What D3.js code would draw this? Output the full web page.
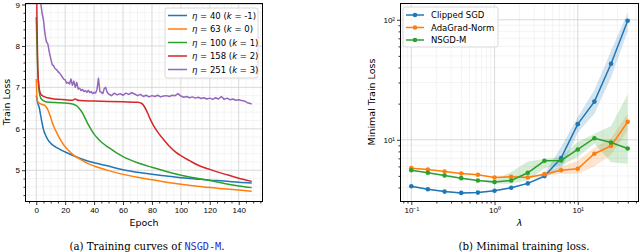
<!DOCTYPE html>
<html lang="en">
<head>
  <meta charset="UTF-8" />
  <title>NSGD-M training curves</title>
  <style>
    html, body { margin: 0; background: #fff; }
    svg { display: block; font-family: "DejaVu Sans", sans-serif; }
    .tick-label { font-size: 8px; fill: #000; }
    .axis-title { font-size: 9.5px; fill: #000; }
    .legend-text { font-size: 8.5px; fill: #000; }
    .caption { font-family: "DejaVu Serif", serif; font-size: 10.2px; fill: #000; }
  </style>
  <script src="https://d3js.org/d3.v7.min.js"></script>
</head>
<body>
  <svg id="chart" width="640" height="252"></svg>
  <script>
    // ---- (a) training curves, one pair of arrays per learning rate
    const blueEpochs = [0, 1, 2, 3, 4, 5, 6, 8, 10, 13, 16, 20, 25, 30, 35, 40, 50, 60, 70, 80, 90, 100, 110, 120, 130, 140, 149];
    const blueLoss = [6.80, 6.62, 6.52, 6.33, 6.14, 5.98, 5.88, 5.74, 5.65, 5.57, 5.51, 5.44, 5.36, 5.29, 5.23, 5.18, 5.10, 5.01, 4.95, 4.90, 4.86, 4.82, 4.79, 4.76, 4.74, 4.71, 4.69];

    const orangeEpochs = [0, 0.5, 1, 2, 3, 4, 5, 6, 7, 8, 9, 10, 11, 12, 14, 16, 19, 22, 26, 30, 35, 40, 50, 60, 70, 80, 90, 100, 110, 120, 130, 140, 149];
    const orangeLoss = [7.20, 6.75, 6.66, 6.62, 6.60, 6.59, 6.58, 6.56, 6.52, 6.46, 6.37, 6.27, 6.16, 6.06, 5.92, 5.78, 5.61, 5.49, 5.36, 5.27, 5.17, 5.10, 4.99, 4.90, 4.83, 4.77, 4.71, 4.66, 4.62, 4.58, 4.55, 4.52, 4.49];

    const greenEpochs = [0, 0.5, 1, 2, 3, 4, 6, 10, 15, 20, 25, 28, 30, 32, 34, 36, 38, 40, 43, 46, 50, 55, 60, 65, 70, 80, 90, 100, 110, 120, 130, 140, 149];
    const greenLoss = [8.70, 8.00, 7.45, 6.90, 6.75, 6.70, 6.66, 6.64, 6.63, 6.62, 6.60, 6.55, 6.48, 6.38, 6.24, 6.10, 5.98, 5.87, 5.75, 5.65, 5.55, 5.43, 5.33, 5.25, 5.18, 5.07, 4.97, 4.88, 4.81, 4.75, 4.68, 4.62, 4.58];

    const redEpochs = [0, 0.5, 1, 1.5, 2, 3, 5, 8, 12, 20, 25, 27, 28, 30, 40, 50, 60, 70, 73, 75, 77, 79, 81, 84, 88, 92, 96, 100, 106, 112, 120, 128, 136, 143, 149];
    const redLoss = [10.2, 8.60, 7.50, 7.15, 6.98, 6.84, 6.78, 6.75, 6.72, 6.70, 6.69, 6.72, 6.70, 6.68, 6.67, 6.66, 6.65, 6.64, 6.61, 6.52, 6.38, 6.22, 6.08, 5.92, 5.74, 5.58, 5.45, 5.35, 5.23, 5.12, 5.02, 4.93, 4.85, 4.78, 4.73];

    const purpleEpochs = [0, 1, 2, 3, 4, 5, 6, 7, 8, 9, 10, 11, 12, 13, 14, 15, 16, 17, 18, 19, 20, 21, 22, 23, 24, 25, 26, 27, 28, 29, 30, 31, 32, 33, 34, 35, 36, 37, 38, 39, 40, 41, 42, 43, 44, 45, 46, 47, 48, 49,
      50, 52, 54, 56, 58, 60, 62, 64, 66, 68, 70, 72, 74, 76, 78, 80, 82, 84, 86, 88, 90, 92, 94, 96, 98, 100, 102, 104, 106, 108, 110, 112, 114, 116, 118, 120, 122, 124, 126, 128, 130, 132, 134, 136, 138, 140, 142, 144, 146, 148, 149];
    const purpleLoss = [11.0, 10.0, 9.50, 9.05, 8.80, 8.62, 8.30, 8.10, 8.05, 7.85, 7.70, 7.55, 7.52, 7.45, 7.43, 7.38, 7.35, 7.30, 7.25, 7.20, 7.18, 7.10, 7.12, 7.08, 7.20, 7.05, 7.15, 7.00, 7.12, 6.96, 6.98, 6.92, 6.95, 6.90, 6.92, 6.88, 6.93, 6.87, 6.90, 6.85, 6.88, 6.86, 6.95, 7.22, 6.90, 6.88, 6.85, 6.97, 7.00, 6.88,
      6.84, 6.80, 6.86, 6.82, 6.85, 6.81, 6.86, 6.83, 6.87, 6.84, 6.80, 6.83, 6.78, 6.81, 6.77, 6.80, 6.78, 6.81, 6.77, 6.79, 6.80, 6.78, 6.81, 6.80, 6.85, 6.79, 6.76, 6.78, 6.75, 6.77, 6.74, 6.76, 6.73, 6.75, 6.72, 6.74, 6.71, 6.75, 6.72, 6.78, 6.71, 6.74, 6.70, 6.72, 6.69, 6.70, 6.68, 6.67, 6.63, 6.61, 6.60];

    const etaLabels = ["40", "63", "100", "158", "251"];
    const kLabels = ["-1", "0", "1", "2", "3"];
    const epochTicks = [0, 20, 40, 60, 80, 100, 120, 140];
    const lossTicks = [5, 6, 7, 8, 9];

    // ---- (b) minimal train loss against lambda
    const lambdas = [0.1, 0.158, 0.251, 0.398, 0.631, 1, 1.585, 2.512, 3.981, 6.31, 10, 15.85, 25.12, 39.81];
    const clippedMean = [4.10, 3.87, 3.70, 3.61, 3.63, 3.76, 3.98, 4.33, 4.98, 7.03, 13.5, 20.8, 43, 98];
    const clippedLow = [4.05, 3.83, 3.66, 3.57, 3.59, 3.72, 3.93, 4.27, 4.85, 5.6, 11.5, 16.5, 33, 80];
    const clippedHigh = [4.15, 3.91, 3.74, 3.65, 3.67, 3.80, 4.03, 4.40, 5.15, 8.7, 15.5, 26, 55, 115];
    const adagradMean = [5.80, 5.65, 5.44, 5.24, 5.11, 4.85, 4.92, 4.85, 5.17, 5.58, 5.73, 7.65, 8.9, 14.1];
    const adagradLow = [5.75, 5.60, 5.40, 5.20, 5.07, 4.81, 4.87, 4.78, 5.05, 5.2, 5.2, 6.0, 7.5, 12.0];
    const adagradHigh = [5.85, 5.70, 5.48, 5.28, 5.15, 4.90, 4.97, 4.95, 5.30, 6.0, 6.7, 8.6, 10.3, 16.5];
    const nsgdMean = [5.58, 5.31, 5.04, 4.79, 4.58, 4.44, 4.58, 5.31, 6.68, 6.72, 8.3, 10.3, 9.5, 8.46];
    const nsgdLow = [5.53, 5.26, 5.00, 4.75, 4.54, 4.30, 4.30, 4.60, 5.80, 6.1, 7.2, 9.3, 6.5, 6.3];
    const nsgdHigh = [5.63, 5.36, 5.08, 4.83, 4.62, 4.60, 5.40, 6.60, 6.90, 7.2, 9.6, 11.2, 13.0, 24];
    const methodNames = ["Clipped SGD", "AdaGrad-Norm", "NSGD-M"];
    const supLabels = { "0.1": "10\u207B\u00B9", "1": "10\u2070", "10": "10\u00B9", "100": "10\u00B2" };

    const colors = ["#1f77b4", "#ff7f0e", "#2ca02c", "#d62728", "#9467bd"];
    const svg = d3.select("#chart");

    function frameAndTicks(g, x, y, box, xMajor, xMinor, yMajor, yMinor, xFmt, yFmt) {
      // minor grid then major grid
      g.append("g").selectAll("line").data(xMinor).join("line")
        .attr("x1", d => x(d)).attr("x2", d => x(d)).attr("y1", box.top).attr("y2", box.bottom)
        .attr("stroke", "#ececec").attr("stroke-width", 0.6);
      g.append("g").selectAll("line").data(yMinor).join("line")
        .attr("y1", d => y(d)).attr("y2", d => y(d)).attr("x1", box.left).attr("x2", box.right)
        .attr("stroke", "#ececec").attr("stroke-width", 0.6);
      g.append("g").selectAll("line").data(xMajor).join("line")
        .attr("x1", d => x(d)).attr("x2", d => x(d)).attr("y1", box.top).attr("y2", box.bottom)
        .attr("stroke", "#d6d6d6").attr("stroke-width", 0.9);
      g.append("g").selectAll("line").data(yMajor).join("line")
        .attr("y1", d => y(d)).attr("y2", d => y(d)).attr("x1", box.left).attr("x2", box.right)
        .attr("stroke", "#d6d6d6").attr("stroke-width", 0.9);

      const xAxis = g.append("g").attr("transform", `translate(0,${box.bottom})`)
        .call(d3.axisBottom(x).tickValues(xMajor).tickFormat(xFmt).tickSize(3.5).tickPadding(2));
      g.append("g").attr("transform", `translate(0,${box.bottom})`)
        .call(d3.axisBottom(x).tickValues(xMinor).tickFormat("").tickSize(2))
        .call(s => s.select(".domain").remove());
      const yAxis = g.append("g").attr("transform", `translate(${box.left},0)`)
        .call(d3.axisLeft(y).tickValues(yMajor).tickFormat(yFmt).tickSize(3.5).tickPadding(2));
      g.append("g").attr("transform", `translate(${box.left},0)`)
        .call(d3.axisLeft(y).tickValues(yMinor).tickFormat("").tickSize(2))
        .call(s => s.select(".domain").remove());
      [xAxis, yAxis].forEach(a => {
        a.select(".domain").remove();
        a.selectAll("text").attr("class", "tick-label").attr("font-family", null).attr("font-size", null);
      });
      g.selectAll(".tick line").attr("stroke", "#000").attr("stroke-width", 0.8);
    }

    function frameBox(g, box) {
      g.append("rect").attr("x", box.left).attr("y", box.top)
        .attr("width", box.right - box.left).attr("height", box.bottom - box.top)
        .attr("fill", "none").attr("stroke", "#000").attr("stroke-width", 1);
    }

    // ================= left panel =================
    const boxA = { left: 25.5, right: 262.5, top: 3.5, bottom: 201.5 };
    const xA = d3.scaleLinear().domain([-7.45, 156.45]).range([boxA.left, boxA.right]);
    const yA = d3.scaleLinear().domain([4.245, 9.024]).range([boxA.bottom, boxA.top]);
    const gA = svg.append("g");
    frameAndTicks(gA, xA, yA, boxA, epochTicks, d3.range(-5, 156, 5).filter(v => v % 20 !== 0),
      lossTicks, d3.range(4.4, 9.01, 0.2).map(v => +v.toFixed(1)).filter(v => v % 1 !== 0),
      d3.format("d"), d3.format("d"));

    gA.append("clipPath").attr("id", "clipA").append("rect")
      .attr("x", boxA.left).attr("y", boxA.top).attr("width", boxA.right - boxA.left).attr("height", boxA.bottom - boxA.top);

    const seriesA = [
      [blueEpochs, blueLoss], [orangeEpochs, orangeLoss], [greenEpochs, greenLoss],
      [redEpochs, redLoss], [purpleEpochs, purpleLoss]
    ];
    const smoothLine = d3.line().x(d => xA(d[0])).y(d => yA(d[1])).curve(d3.curveMonotoneX);
    const rawLine = d3.line().x(d => xA(d[0])).y(d => yA(d[1]));
    const linesA = gA.append("g").attr("clip-path", "url(#clipA)");
    seriesA.forEach(([ep, loss], i) => {
      const pts = ep.map((e, j) => [e, loss[j]]);
      linesA.append("path").datum(pts)
        .attr("d", i === 4 ? rawLine : smoothLine)
        .attr("fill", "none").attr("stroke", colors[i]).attr("stroke-width", 1.5)
        .attr("stroke-linejoin", "round");
    });
    frameBox(gA, boxA);

    gA.append("text").attr("class", "axis-title").attr("x", (boxA.left + boxA.right) / 2).attr("y", 226)
      .attr("text-anchor", "middle").text("Epoch");
    gA.append("text").attr("class", "axis-title").attr("transform", "translate(10,102) rotate(-90)")
      .attr("text-anchor", "middle").text("Train Loss");

    // legend (a)
    const legA = gA.append("g").attr("transform", "translate(165,8)");
    legA.append("rect").attr("width", 93).attr("height", 70).attr("rx", 2)
      .attr("fill", "#fff").attr("fill-opacity", 0.85).attr("stroke", "#d0d0d0").attr("stroke-width", 0.8);
    etaLabels.forEach((eta, i) => {
      const yy = 7.5 + i * 13.5;
      legA.append("line").attr("x1", 3).attr("x2", 22).attr("y1", yy).attr("y2", yy)
        .attr("stroke", colors[i]).attr("stroke-width", 1.5);
      const t = legA.append("text").attr("class", "legend-text").attr("x", 27).attr("y", yy + 3);
      t.append("tspan").attr("font-style", "italic").text("\u03B7");
      t.append("tspan").text(` = ${eta} (`);
      t.append("tspan").attr("font-style", "italic").text("k");
      t.append("tspan").text(` = ${kLabels[i]})`);
    });

    gA.append("text").attr("class", "caption").attr("x", 147).attr("y", 250).attr("text-anchor", "middle")
      .call(t => {
        t.append("tspan").text("(a) Training curves of ");
        t.append("tspan").attr("font-family", "'DejaVu Sans Mono', monospace").attr("font-size", 10.2)
          .attr("fill", "#2e2ed0").text("NSGD-M");
        t.append("tspan").text(".");
      });

    // ================= right panel =================
    const boxB = { left: 400.5, right: 638.5, top: 3.5, bottom: 201.5 };
    const xB = d3.scaleLog().domain([Math.pow(10, -1.13), Math.pow(10, 1.73)]).range([boxB.left, boxB.right]);
    const yB = d3.scaleLog().domain([3.06, 136.6]).range([boxB.bottom, boxB.top]);
    const gB = svg.append("g");
    const xMinorB = [0.08, 0.09, 0.2, 0.3, 0.4, 0.5, 0.6, 0.7, 0.8, 0.9, 2, 3, 4, 5, 6, 7, 8, 9, 20, 30, 40, 50];
    const yMinorB = [4, 5, 6, 7, 8, 9, 20, 30, 40, 50, 60, 70, 80, 90];
    frameAndTicks(gB, xB, yB, boxB, [0.1, 1, 10], xMinorB, [10, 100], yMinorB,
      d => supLabels[String(d)], d => supLabels[String(d)]);

    gB.append("clipPath").attr("id", "clipB").append("rect")
      .attr("x", boxB.left).attr("y", boxB.top).attr("width", boxB.right - boxB.left).attr("height", boxB.bottom - boxB.top);
    const plotB = gB.append("g").attr("clip-path", "url(#clipB)");

    const seriesB = [
      [clippedMean, clippedLow, clippedHigh],
      [adagradMean, adagradLow, adagradHigh],
      [nsgdMean, nsgdLow, nsgdHigh]
    ];
    const band = d3.area().x(d => xB(d.l)).y0(d => yB(d.lo)).y1(d => yB(d.hi));
    seriesB.forEach(([m, lo, hi], i) => {
      plotB.append("path").datum(lambdas.map((l, j) => ({ l, lo: lo[j], hi: hi[j] })))
        .attr("d", band).attr("fill", colors[i]).attr("fill-opacity", 0.2).attr("stroke", "none");
    });
    const meanLine = d3.line().x(d => xB(d[0])).y(d => yB(d[1]));
    seriesB.forEach(([m], i) => {
      const pts = lambdas.map((l, j) => [l, m[j]]);
      plotB.append("path").datum(pts).attr("d", meanLine)
        .attr("fill", "none").attr("stroke", colors[i]).attr("stroke-width", 1.5);
      plotB.append("g").selectAll("circle").data(pts).join("circle")
        .attr("cx", d => xB(d[0])).attr("cy", d => yB(d[1])).attr("r", 2.3).attr("fill", colors[i]);
    });
    frameBox(gB, boxB);

    gB.append("text").attr("class", "axis-title").attr("x", (boxB.left + boxB.right) / 2).attr("y", 226)
      .attr("text-anchor", "middle").attr("font-style", "italic").attr("font-size", 10).text("\u03BB");
    gB.append("text").attr("class", "axis-title").attr("transform", "translate(375,102) rotate(-90)")
      .attr("text-anchor", "middle").text("Minimal Train Loss");

    // legend (b)
    const legB = gB.append("g").attr("transform", "translate(403,7)");
    legB.append("rect").attr("width", 95).attr("height", 40).attr("rx", 2)
      .attr("fill", "#fff").attr("fill-opacity", 0.85).attr("stroke", "#d0d0d0").attr("stroke-width", 0.8);
    methodNames.forEach((name, i) => {
      const yy = 8 + i * 12.5;
      legB.append("line").attr("x1", 3).attr("x2", 21).attr("y1", yy).attr("y2", yy)
        .attr("stroke", colors[i]).attr("stroke-width", 1.5);
      legB.append("circle").attr("cx", 12).attr("cy", yy).attr("r", 2.3).attr("fill", colors[i]);
      legB.append("text").attr("class", "legend-text").attr("x", 28).attr("y", yy + 3).text(name);
    });

    gB.append("text").attr("class", "caption").attr("x", 524).attr("y", 250).attr("text-anchor", "middle")
      .text("(b) Minimal training loss.");
  </script>
</body>
</html>
